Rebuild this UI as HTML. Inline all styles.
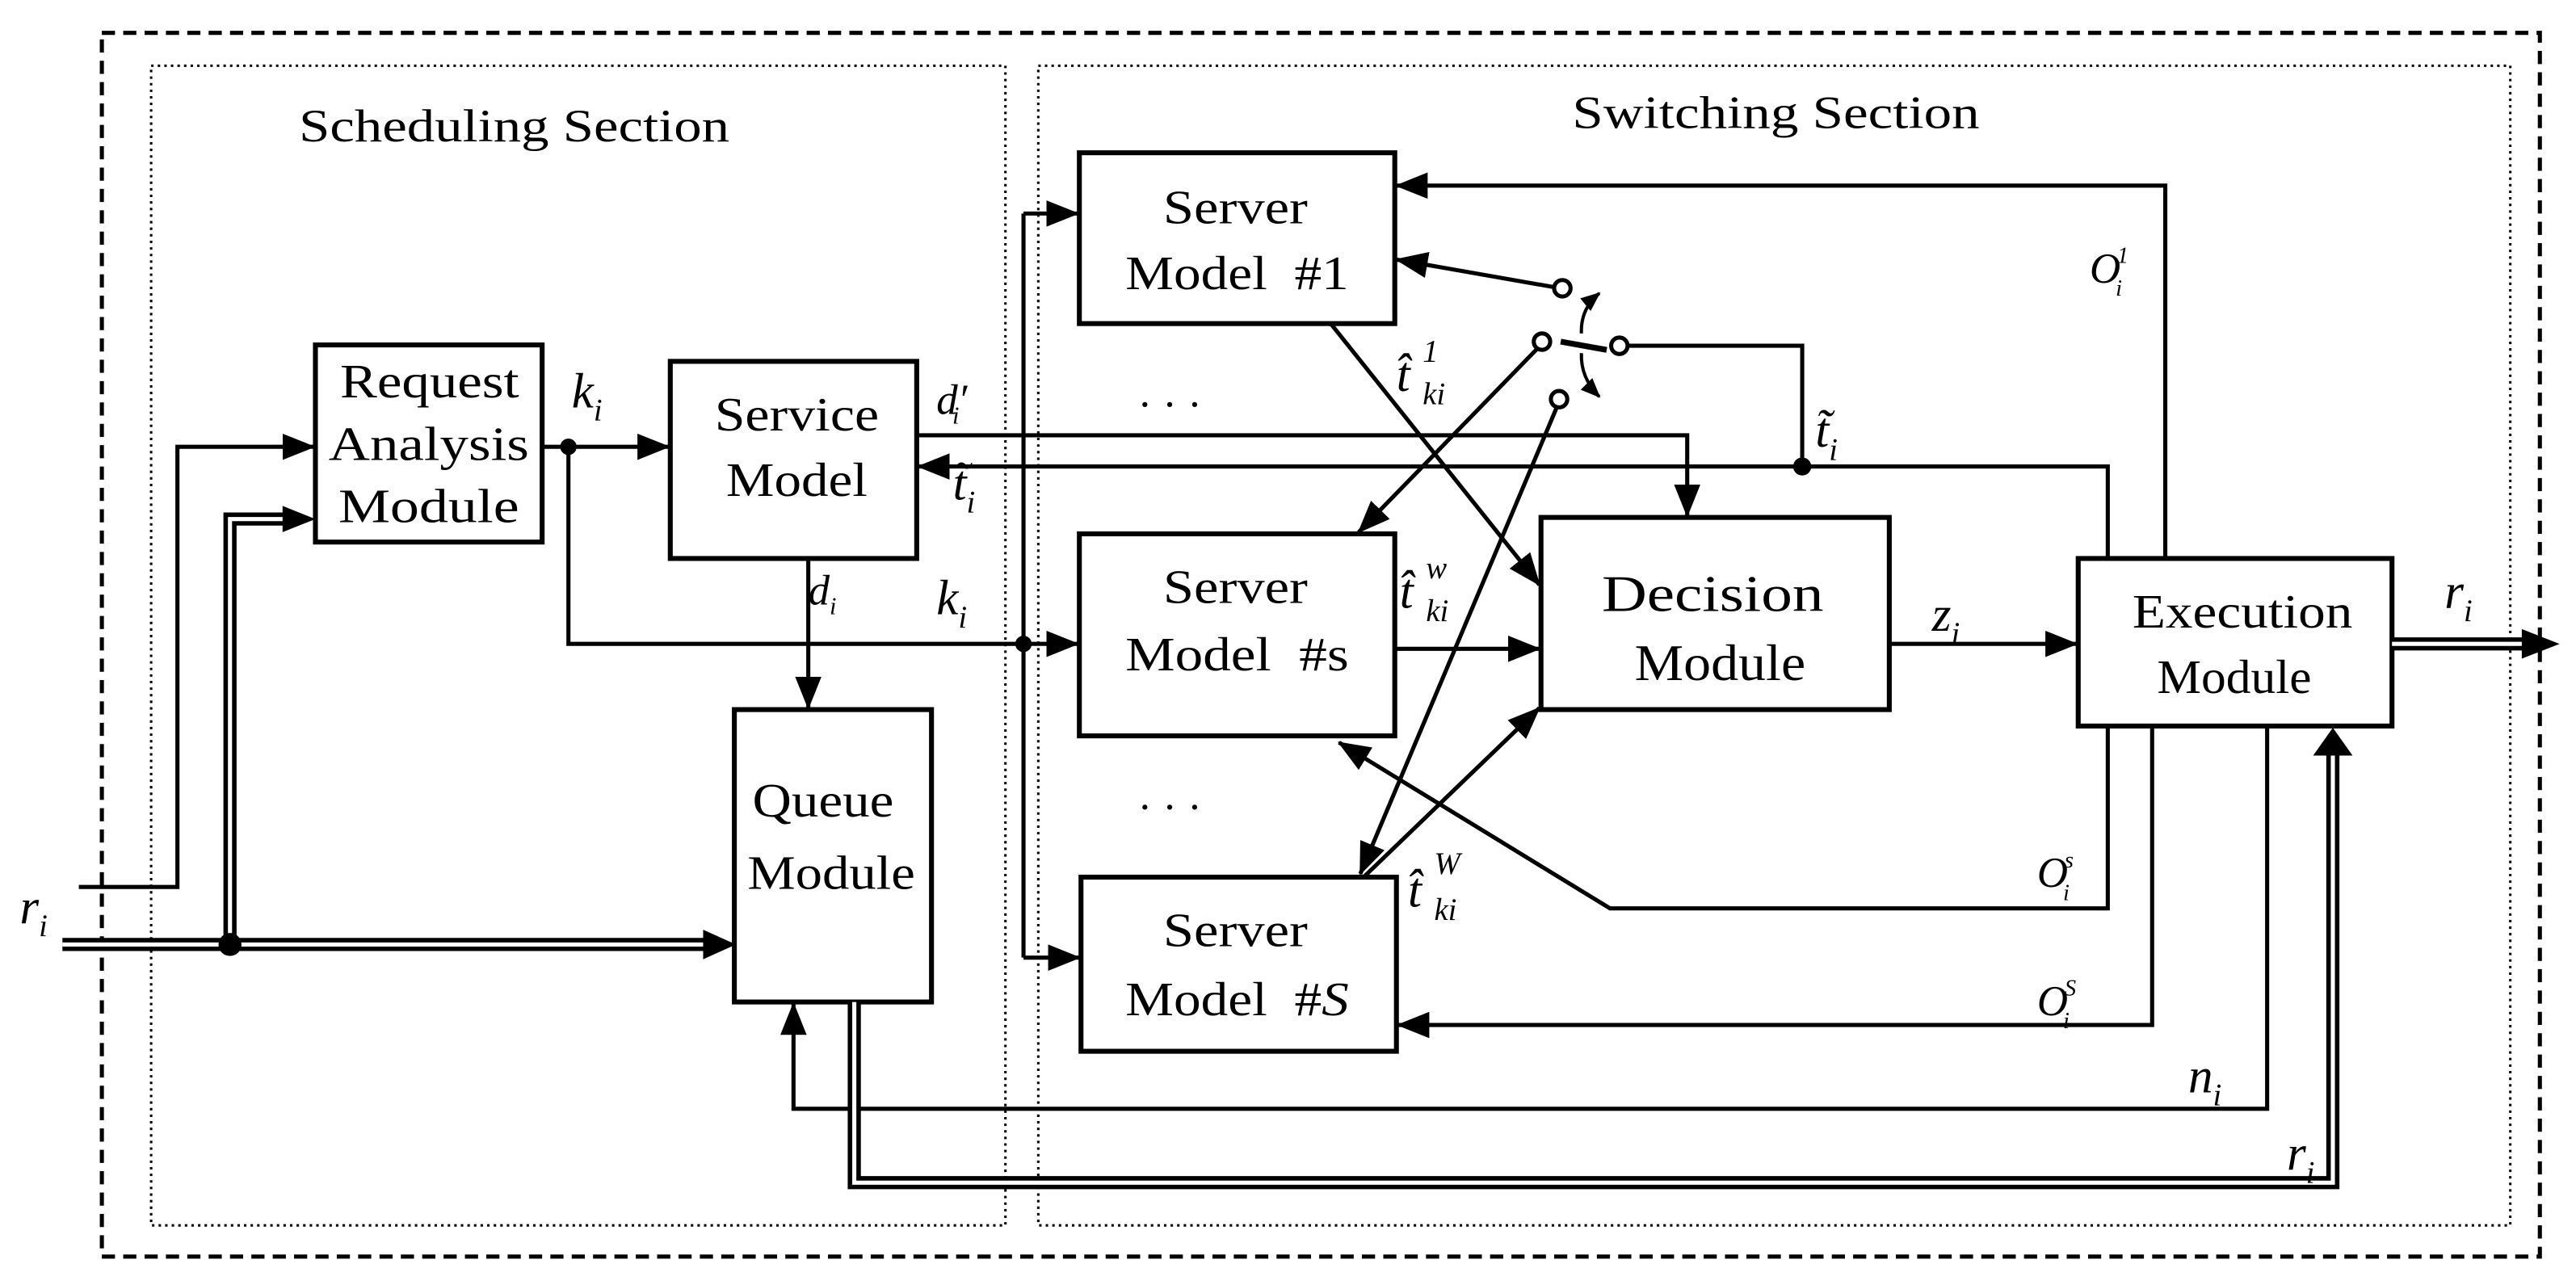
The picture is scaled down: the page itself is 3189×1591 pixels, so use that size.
<!DOCTYPE html>
<html><head><meta charset="utf-8"><style>
html,body{margin:0;padding:0;background:#fff}
svg{display:block}
text{font-family:"Liberation Serif",serif;fill:#000}
.it{font-style:italic}
</style></head><body>
<svg width="3189" height="1591" viewBox="0 0 1568 782.3" preserveAspectRatio="none" xmlns="http://www.w3.org/2000/svg">
<defs>
<marker id="a" markerUnits="userSpaceOnUse" markerWidth="20" markerHeight="16" refX="19" refY="8" orient="auto">
<path d="M0,0 L20,8 L0,16 z" fill="#000"/></marker>
<marker id="s" markerUnits="userSpaceOnUse" markerWidth="12" markerHeight="10" refX="11" refY="5" orient="auto">
<path d="M0,0 L12,5 L0,10 z" fill="#000"/></marker>
</defs>
<rect x="0" y="0" width="1568" height="782.3" fill="#fff"/>
<rect x="62" y="20" width="1484" height="745" fill="none" stroke="#000" stroke-width="2.5" stroke-dasharray="8 5"/>
<rect x="92" y="40" width="520" height="706" fill="none" stroke="#000" stroke-width="1.5" stroke-dasharray="1.5 2.5"/>
<rect x="632" y="40" width="896" height="706" fill="none" stroke="#000" stroke-width="1.5" stroke-dasharray="1.5 2.5"/>
<text x="182" y="86" font-size="28" textLength="262" lengthAdjust="spacingAndGlyphs">Scheduling Section</text>
<text x="957" y="78" font-size="28" textLength="248" lengthAdjust="spacingAndGlyphs">Switching Section</text>

<g fill="none" stroke="#000" stroke-width="3">
<rect x="192" y="210" width="138" height="120"/>
<rect x="408" y="220" width="150" height="120"/>
<rect x="447" y="432" width="120" height="178"/>
<rect x="657" y="93" width="192" height="104"/>
<rect x="657" y="325" width="192" height="123"/>
<rect x="658" y="534" width="192" height="106"/>
<rect x="938" y="315" width="212" height="117"/>
<rect x="1265" y="340" width="191" height="102"/>
</g>

<g fill="none" stroke="#000" stroke-width="2.5">
<polyline points="48,540 108,540 108,272 191,272" marker-end="url(#a)"/>
<line x1="330" y1="272" x2="407" y2="272" marker-end="url(#a)"/>
<polyline points="346,272 346,392 656,392" marker-end="url(#a)"/>
<line x1="623" y1="130" x2="623" y2="583"/>
<line x1="623" y1="130" x2="656" y2="130" marker-end="url(#a)"/>
<line x1="623" y1="583" x2="657" y2="583" marker-end="url(#a)"/>
<line x1="492" y1="340" x2="492" y2="431" marker-end="url(#a)"/>
<polyline points="558,265 1027,265 1027,314" marker-end="url(#a)"/>
<polyline points="1283,340 1283,284 559,284" marker-end="url(#a)"/>
<polyline points="1097,284 1097,210.5 990,210.5"/>
<line x1="947" y1="175" x2="850" y2="158" marker-end="url(#a)"/>
<line x1="936" y1="212" x2="827" y2="324" marker-end="url(#a)"/>
<line x1="948" y1="247" x2="828" y2="532" marker-end="url(#a)"/>
<line x1="950" y1="208" x2="978" y2="213" stroke-width="3.5"/>
<path d="M962.6,203 Q962,188 973.5,178.5" stroke-width="2" marker-end="url(#s)"/>
<path d="M962.6,215 Q962,230 973.5,241.5" stroke-width="2" marker-end="url(#s)"/>
<line x1="810" y1="197" x2="937" y2="356" marker-end="url(#a)"/>
<line x1="849" y1="395" x2="937" y2="395" marker-end="url(#a)"/>
<line x1="830" y1="534" x2="937" y2="431" marker-end="url(#a)"/>
<line x1="1150" y1="392" x2="1264" y2="392" marker-end="url(#a)"/>
<polyline points="1318,340 1318,113 850,113" marker-end="url(#a)"/>
<polyline points="1283,442 1283,553 980,553 815,452" marker-end="url(#a)"/>
<polyline points="1310,442 1310,624 851,624" marker-end="url(#a)"/>
<polyline points="1380,442 1380,675 483,675 483,611" marker-end="url(#a)"/>
</g>
<g fill="#fff" stroke="#000" stroke-width="2.5">
<circle cx="951" cy="175.5" r="5"/>
<circle cx="938.6" cy="208" r="5"/>
<circle cx="985.7" cy="210.5" r="5"/>
<circle cx="949" cy="243" r="5"/>
</g>

<g fill="none" stroke-linejoin="miter">
<polyline points="38,575 432,575" stroke="#000" stroke-width="8"/>
<polyline points="38,575 432,575" stroke="#fff" stroke-width="2.5"/>
<polyline points="140,575 140,316 176,316" stroke="#000" stroke-width="8"/>
<polyline points="140,575 140,316 178,316" stroke="#fff" stroke-width="2.5"/>
<polyline points="1456,392 1540,392" stroke="#000" stroke-width="8"/>
<polyline points="1456,392 1542,392" stroke="#fff" stroke-width="2.5"/>
<polyline points="520,610 520,720 1420,720 1420,458" stroke="#000" stroke-width="8"/>
<polyline points="520,610 520,720 1420,720 1420,456" stroke="#fff" stroke-width="2.5"/>
</g>
<g fill="#000">
<circle cx="346" cy="272" r="5"/>
<circle cx="623" cy="392" r="5"/>
<circle cx="1097" cy="284" r="5.5"/>
<circle cx="140" cy="575" r="7"/>
<polygon points="192,316 172,308 172,324"/>
<polygon points="448,575 428,566 428,584"/>
<polygon points="1558,392 1535,383 1535,401"/>
<polygon points="1420,443 1408,460 1432,460"/>
</g>

<g font-size="29" lengthAdjust="spacingAndGlyphs">
<text x="207" y="242" textLength="109" lengthAdjust="spacingAndGlyphs">Request</text>
<text x="200" y="280" textLength="122" lengthAdjust="spacingAndGlyphs">Analysis</text>
<text x="206" y="318" textLength="110" lengthAdjust="spacingAndGlyphs">Module</text>
<text x="435" y="262" textLength="100" lengthAdjust="spacingAndGlyphs">Service</text>
<text x="442" y="302" textLength="86" lengthAdjust="spacingAndGlyphs">Model</text>
<text x="458" y="497" textLength="86" lengthAdjust="spacingAndGlyphs">Queue</text>
<text x="455" y="541" textLength="102" lengthAdjust="spacingAndGlyphs">Module</text>
<text x="708" y="136" textLength="88" lengthAdjust="spacingAndGlyphs">Server</text>
<text x="685" y="176" textLength="136" lengthAdjust="spacingAndGlyphs">Model&#160; #1</text>
<text x="708" y="367" textLength="88" lengthAdjust="spacingAndGlyphs">Server</text>
<text x="685" y="408" textLength="136" lengthAdjust="spacingAndGlyphs">Model&#160; #s</text>
<text x="708" y="576" textLength="88" lengthAdjust="spacingAndGlyphs">Server</text>
<text x="685" y="618" textLength="136" lengthAdjust="spacingAndGlyphs">Model&#160; #<tspan class="it">S</tspan></text>
<text x="975" y="372" font-size="31" textLength="135" lengthAdjust="spacingAndGlyphs">Decision</text>
<text x="995" y="414" font-size="31" textLength="104" lengthAdjust="spacingAndGlyphs">Module</text>
<text x="1298" y="382" textLength="134" lengthAdjust="spacingAndGlyphs">Execution</text>
<text x="1313" y="422" textLength="94" lengthAdjust="spacingAndGlyphs">Module</text>
</g>
<g font-size="26" text-anchor="middle">
<text x="712" y="255">· · ·</text>
<text x="712" y="500">· · ·</text>
</g>

<g class="it" font-size="30">
<text x="12" y="562">r<tspan font-size="19" dy="8">i</tspan></text>
<text x="348" y="248">k<tspan font-size="19" dy="8">i</tspan></text>
<text x="570" y="252" font-size="26">d′<tspan font-size="15" dy="6" dx="-9">i</tspan></text>
<text x="580" y="304">t̃<tspan font-size="19" dy="8">i</tspan></text>
<text x="492" y="368" font-size="26">d<tspan font-size="15" dy="6">i</tspan></text>
<text x="570" y="374">k<tspan font-size="19" dy="8">i</tspan></text>
<text x="850" y="238">t̂</text><text x="866" y="220" font-size="19">1</text><text x="866" y="246" font-size="19">ki</text>
<text x="852" y="370">t̂</text><text x="868" y="352" font-size="19">w</text><text x="868" y="378" font-size="19">ki</text>
<text x="857" y="552">t̂</text><text x="873" y="532" font-size="19">W</text><text x="873" y="560" font-size="19">ki</text>
<text x="1105" y="272">t̃<tspan font-size="19" dy="8">i</tspan></text>
<text x="1176" y="384">z<tspan font-size="19" dy="8">i</tspan></text>
<text x="1488" y="370">r<tspan font-size="19" dy="8">i</tspan></text>
<text x="1272" y="172" font-size="26">O<tspan font-size="14" dy="8" dx="-3">i</tspan><tspan font-size="14" dy="-20" dx="-3">1</tspan></text>
<text x="1240" y="540" font-size="26">O<tspan font-size="14" dy="8" dx="-3">i</tspan><tspan font-size="14" dy="-20" dx="-3">s</tspan></text>
<text x="1240" y="618" font-size="26">O<tspan font-size="14" dy="8" dx="-3">i</tspan><tspan font-size="14" dy="-20" dx="-3">S</tspan></text>
<text x="1332" y="665">n<tspan font-size="19" dy="8">i</tspan></text>
<text x="1392" y="712">r<tspan font-size="19" dy="8">i</tspan></text>
</g>
</svg>
</body></html>
